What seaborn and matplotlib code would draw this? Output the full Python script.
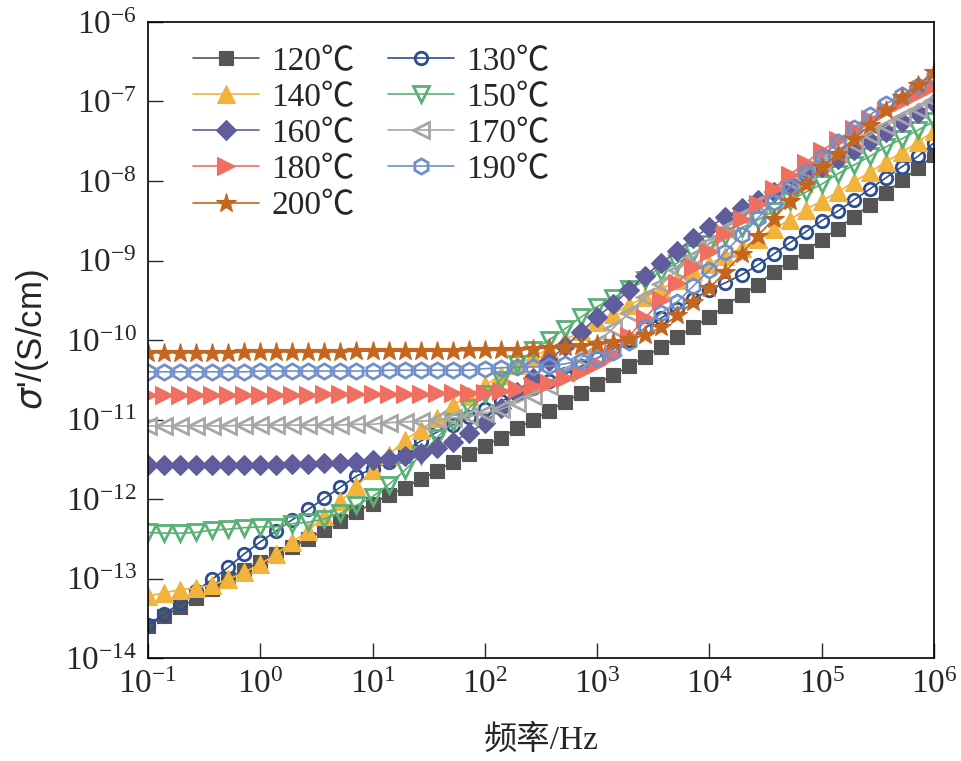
import numpy as np
import pandas as pd
import matplotlib
matplotlib.use("Agg")
import matplotlib.pyplot as plt
import seaborn as sns

# frequency sweep, 7 points per decade from 0.1 Hz to 1 MHz
freq = np.logspace(-1, 6, 50)

# log10 of sigma' (S/cm)
s120 = [-13.60, -13.47, -13.36, -13.25, -13.13, -13.01, -12.89, -12.79, -12.69, -12.60,
        -12.50, -12.39, -12.28, -12.16, -12.06, -11.95, -11.86, -11.75, -11.65, -11.53,
        -11.43, -11.33, -11.23, -11.11, -11.01, -10.89, -10.78, -10.67, -10.55, -10.44,
        -10.33, -10.21, -10.09, -9.96, -9.84, -9.71, -9.57, -9.43, -9.31, -9.14,
        -9.02, -8.88, -8.74, -8.60, -8.45, -8.30, -8.15, -7.99, -7.84, -7.67]
s130 = [-13.58, -13.45, -13.31, -13.16, -13.01, -12.86, -12.69, -12.54, -12.40, -12.26,
        -12.13, -11.99, -11.85, -11.71, -11.62, -11.53, -11.40, -11.27, -11.16, -11.07,
        -10.97, -10.87, -10.77, -10.68, -10.60, -10.52, -10.43, -10.33, -10.23, -10.11,
        -10.00, -9.85, -9.72, -9.61, -9.48, -9.37, -9.28, -9.18, -9.06, -8.92,
        -8.78, -8.64, -8.50, -8.38, -8.24, -8.10, -7.96, -7.82, -7.69, -7.52]
s140 = [-13.22, -13.18, -13.14, -13.12, -13.08, -13.01, -12.92, -12.82, -12.69, -12.54,
        -12.40, -12.21, -12.03, -11.84, -11.64, -11.45, -11.26, -11.13, -10.98, -10.82,
        -10.70, -10.57, -10.44, -10.31, -10.21, -10.11, -10.00, -9.89, -9.77, -9.67,
        -9.56, -9.46, -9.36, -9.25, -9.13, -9.04, -8.94, -8.84, -8.73, -8.60,
        -8.49, -8.36, -8.25, -8.14, -8.01, -7.89, -7.76, -7.64, -7.51, -7.37]
s150 = [-12.42, -12.43, -12.43, -12.42, -12.39, -12.38, -12.36, -12.35, -12.35, -12.31,
        -12.29, -12.25, -12.18, -12.08, -11.97, -11.82, -11.64, -11.45, -11.23, -11.03,
        -10.86, -10.68, -10.50, -10.30, -10.13, -10.00, -9.86, -9.71, -9.58, -9.47,
        -9.36, -9.25, -9.14, -9.03, -8.91, -8.79, -8.69, -8.59, -8.49, -8.38,
        -8.25, -8.14, -8.04, -7.91, -7.80, -7.69, -7.57, -7.47, -7.36, -7.25]
s160 = [-11.57, -11.57, -11.57, -11.57, -11.57, -11.57, -11.57, -11.57, -11.57, -11.56,
        -11.56, -11.55, -11.55, -11.53, -11.51, -11.50, -11.46, -11.42, -11.36, -11.28,
        -11.17, -11.04, -10.86, -10.65, -10.48, -10.26, -10.08, -9.90, -9.71, -9.55,
        -9.37, -9.19, -9.03, -8.88, -8.72, -8.58, -8.45, -8.34, -8.24, -8.14,
        -8.04, -7.92, -7.82, -7.72, -7.61, -7.50, -7.38, -7.26, -7.14, -7.02]
s170 = [-11.08, -11.08, -11.08, -11.08, -11.08, -11.08, -11.07, -11.07, -11.07, -11.07,
        -11.07, -11.07, -11.07, -11.06, -11.06, -11.04, -11.03, -11.02, -11.01, -10.98,
        -10.96, -10.92, -10.87, -10.79, -10.70, -10.58, -10.40, -10.23, -10.04, -9.85,
        -9.66, -9.46, -9.30, -9.12, -8.96, -8.78, -8.60, -8.44, -8.28, -8.13,
        -8.00, -7.87, -7.76, -7.65, -7.53, -7.42, -7.31, -7.19, -7.09, -6.98]
s180 = [-10.69, -10.69, -10.69, -10.69, -10.69, -10.69, -10.69, -10.69, -10.69, -10.69,
        -10.69, -10.68, -10.68, -10.68, -10.68, -10.68, -10.68, -10.68, -10.67, -10.67,
        -10.67, -10.67, -10.64, -10.62, -10.58, -10.54, -10.48, -10.40, -10.30, -10.19,
        -9.95, -9.72, -9.50, -9.28, -9.08, -8.89, -8.67, -8.48, -8.29, -8.10,
        -7.92, -7.77, -7.62, -7.48, -7.35, -7.22, -7.11, -7.01, -6.91, -6.81]
s190 = [-10.40, -10.40, -10.40, -10.40, -10.40, -10.40, -10.40, -10.39, -10.39, -10.39,
        -10.39, -10.39, -10.39, -10.39, -10.39, -10.38, -10.38, -10.38, -10.38, -10.38,
        -10.38, -10.36, -10.35, -10.34, -10.34, -10.33, -10.30, -10.26, -10.23, -10.15,
        -10.03, -9.84, -9.66, -9.52, -9.32, -9.12, -8.89, -8.68, -8.47, -8.26,
        -8.08, -7.89, -7.70, -7.51, -7.33, -7.17, -7.03, -6.92, -6.81, -6.69]
s200 = [-10.16, -10.16, -10.16, -10.16, -10.16, -10.16, -10.15, -10.15, -10.15, -10.15,
        -10.15, -10.15, -10.15, -10.14, -10.14, -10.14, -10.14, -10.14, -10.14, -10.14,
        -10.13, -10.13, -10.13, -10.13, -10.11, -10.10, -10.09, -10.08, -10.05, -10.03,
        -9.99, -9.94, -9.84, -9.69, -9.52, -9.35, -9.14, -8.92, -8.69, -8.48,
        -8.25, -8.04, -7.82, -7.66, -7.47, -7.30, -7.11, -6.94, -6.79, -6.63]

labels = ["120℃", "130℃", "140℃", "150℃", "160℃", "170℃", "180℃", "190℃", "200℃"]
series = [s120, s130, s140, s150, s160, s170, s180, s190, s200]
colors = ["#555555", "#2D4E8E", "#F2B33D", "#5BB075", "#615D9C",
          "#A6A6A6", "#EF6F61", "#6F8FCB", "#C4661F"]
markers = ["s", "o", "^", "v", "D", "<", ">", "h", "*"]
filled = [True, False, True, False, True, False, True, False, True]
msizes = [10, 9, 13, 11, 10.5, 11, 13, 11, 15]

sns.set_style("ticks")
plt.rcParams["font.family"] = ["Liberation Serif", "Noto Sans CJK SC", "DejaVu Serif"]
plt.rcParams["mathtext.fontset"] = "stix"

fig = plt.figure(figsize=(9.62, 7.61), dpi=100)
ax = fig.add_axes([0.1538, 0.1353, 0.8171, 0.8358])

for lab, s, c, m, f, ms in zip(labels, series, colors, markers, filled, msizes):
    df = pd.DataFrame({"freq": freq, "sigma": 10 ** np.array(s)})
    sns.lineplot(data=df, x="freq", y="sigma", ax=ax, color=c, marker=m,
                 markersize=ms, markerfacecolor=c if f else "none",
                 markeredgecolor=c, markeredgewidth=0.8 if f else 2.0,
                 linewidth=1.2, label=lab)

ax.set_xscale("log")
ax.set_yscale("log")
ax.set_xlim(1e-1, 1e6)
ax.set_ylim(1e-14, 1e-6)
ax.xaxis.set_major_locator(matplotlib.ticker.LogLocator(base=10, numticks=20))
ax.yaxis.set_major_locator(matplotlib.ticker.LogLocator(base=10, numticks=20))
ax.xaxis.set_minor_locator(matplotlib.ticker.NullLocator())
ax.yaxis.set_minor_locator(matplotlib.ticker.NullLocator())
ax.tick_params(which="major", direction="in", length=11, width=1.0,
               labelsize=24, top=False, right=False)
ax.tick_params(axis="x", pad=8)
ax.tick_params(axis="y", pad=8)
for sp in ax.spines.values():
    sp.set_linewidth(1.2)
    sp.set_color("black")

ax.set_xlabel("频率/Hz", fontsize=24, labelpad=18)
ax.set_ylabel(r"$\sigma$'/(S/cm)", fontsize=25, family="Liberation Sans",
              math_fontfamily="dejavusans", labelpad=10)

h, l = ax.get_legend_handles_labels()
order = [0, 2, 4, 6, 8, 1, 3, 5, 7]
ax.legend([h[i] for i in order], [l[i] for i in order], ncol=2, frameon=False,
          loc="upper left", bbox_to_anchor=(0.057, 0.962), borderaxespad=0,
          borderpad=0, fontsize=24, handlelength=2.0, handletextpad=0.35,
          labelspacing=0.17, columnspacing=1.0)

fig.savefig("out.png", dpi=100)
